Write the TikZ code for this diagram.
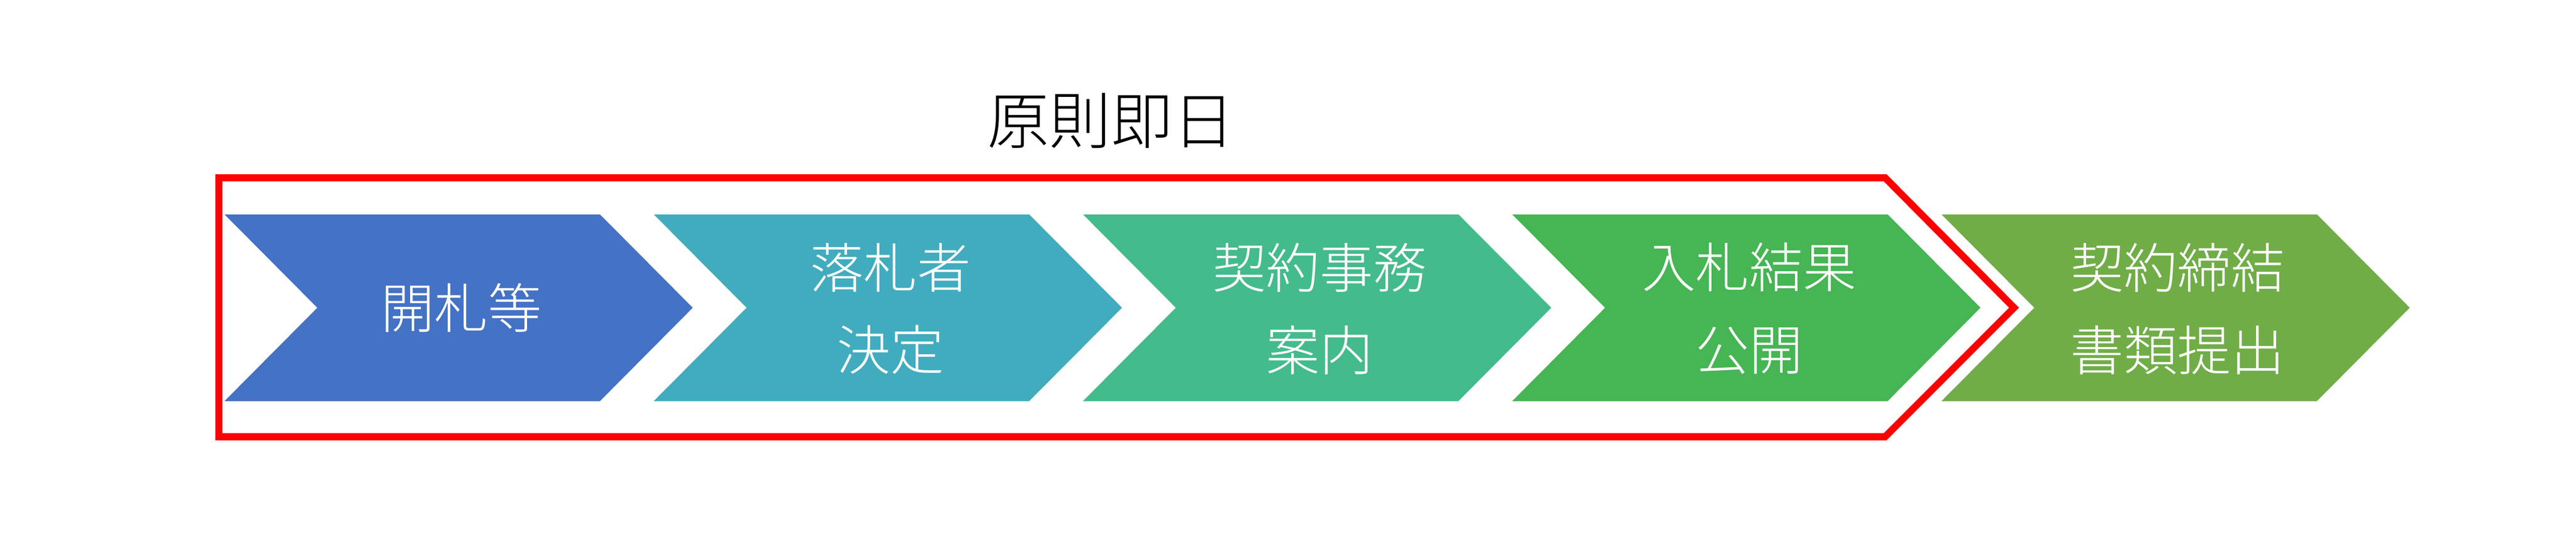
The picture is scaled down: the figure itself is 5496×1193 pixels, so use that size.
\documentclass[tikz,border=0pt]{standalone}
\usepackage{fontspec}
\newfontfamily\jfont{Noto Sans CJK JP Light}
\definecolor{cA}{HTML}{4472C4}
\definecolor{cB}{HTML}{42ACBF}
\definecolor{cC}{HTML}{44BB8D}
\definecolor{cD}{HTML}{46B553}
\definecolor{cE}{HTML}{70AD47}
\definecolor{frame}{HTML}{FF0000}
\begin{document}
\begin{tikzpicture}[x=0.01cm,y=-0.01cm,
  chev/.style={draw=none},
  label/.style={text=white,font=\jfont\fontsize{32.5}{50}\selectfont,align=center,inner sep=0pt},
  titlelabel/.style={text=black,font=\jfont\fontsize{37.5}{45}\selectfont,inner sep=0pt},
  frameline/.style={draw=frame,line width=0.15cm,line join=miter}]
\useasboundingbox (0,0) rectangle (5496,1193);
\fill[white] (0,0) rectangle (5496,1193);
% chevrons
\foreach \i/\c in {0/cA,1/cB,2/cC,3/cD,4/cE}{
  \pgfmathsetmacro{\xx}{479+915.8*\i}
  \fill[\c] (\xx,457) -- ++(801,0) -- ++(198,199) -- ++(-198,199) -- ++(-801,0) -- ++(198,-199) -- cycle;
}
\node[label] (s1) at (984,656) {開札等};
\node[label] (s2) at (1900,658) {落札者\\決定};
\node[label] (s3) at (2816,658) {契約事務\\案内};
\node[label] (s4) at (3732,658) {入札結果\\公開};
\node[label] (s5) at (4646,658) {契約締結\\書類提出};
% red frame
\draw[frameline] (467,379) -- (4022,379) -- (4297,656) -- (4022,931) -- (467,931) -- cycle;
\node[titlelabel] (title) at (2370,257) {原則即日};
\end{tikzpicture}
\end{document}
